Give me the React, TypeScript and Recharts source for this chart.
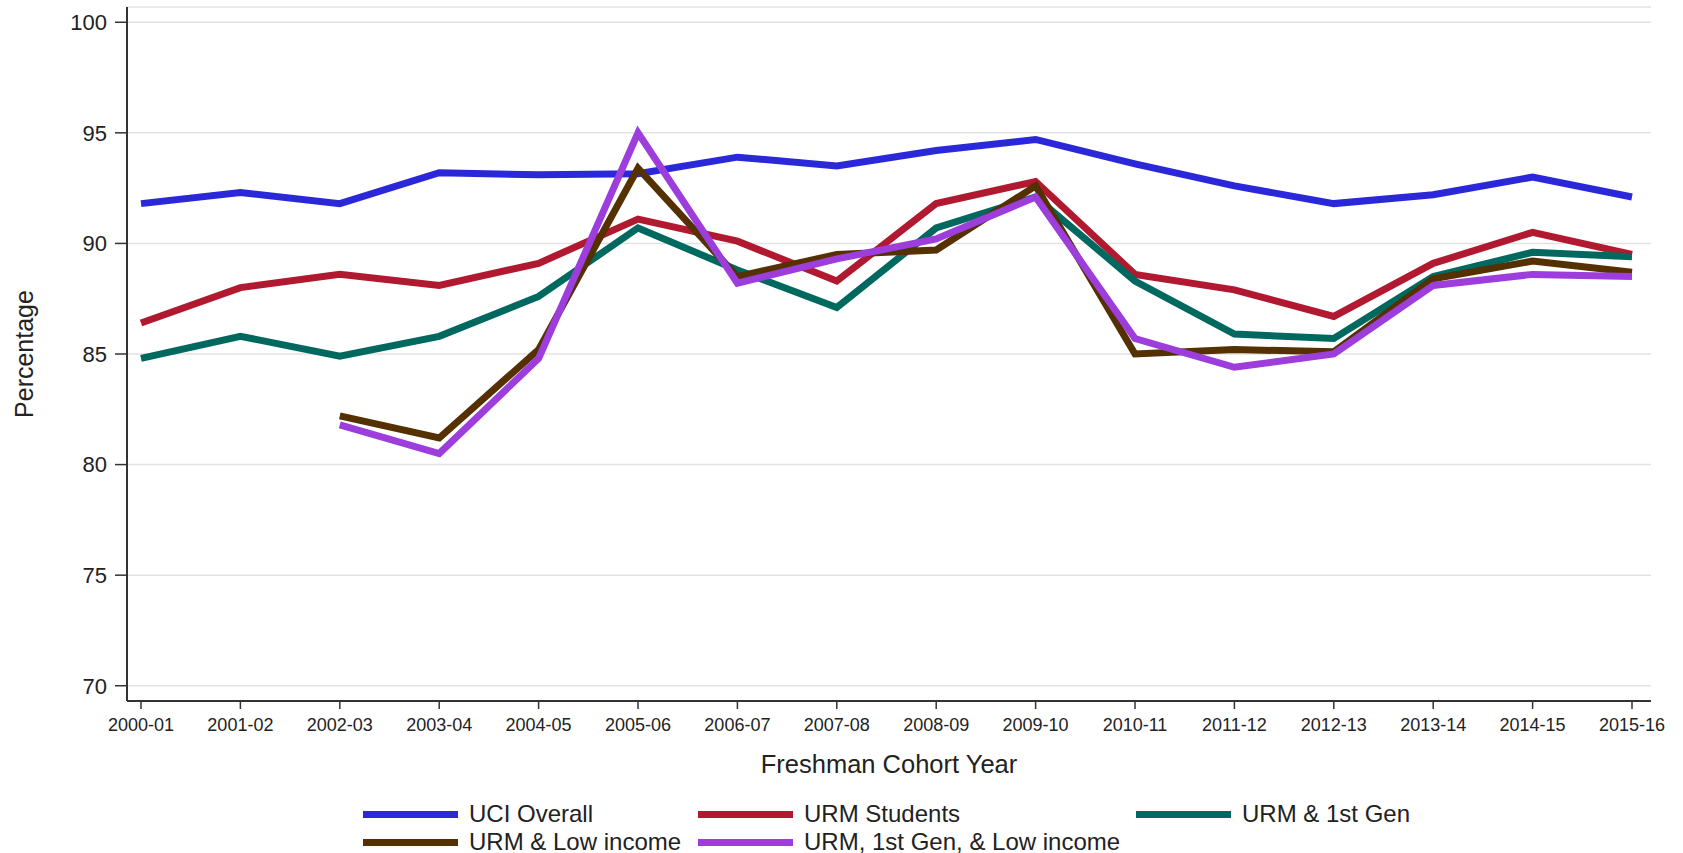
import React from "react";
import { LineChart, Line, XAxis, YAxis, CartesianGrid } from "recharts";

const years = [
  "2000-01", "2001-02", "2002-03", "2003-04", "2004-05", "2005-06", "2006-07", "2007-08",
  "2008-09", "2009-10", "2010-11", "2011-12", "2012-13", "2013-14", "2014-15", "2015-16",
];

const uciOverall = [91.8, 92.3, 91.8, 93.2, 93.1, 93.15, 93.9, 93.5, 94.2, 94.7, 93.6, 92.6, 91.8, 92.2, 93.0, 92.1];
const urmStudents = [86.4, 88.0, 88.6, 88.1, 89.1, 91.1, 90.1, 88.3, 91.8, 92.8, 88.6, 87.9, 86.7, 89.1, 90.5, 89.5];
const urmFirstGen = [84.8, 85.8, 84.9, 85.8, 87.6, 90.7, 88.8, 87.1, 90.7, 92.1, 88.3, 85.9, 85.7, 88.5, 89.6, 89.4];
const urmLowIncome = [null, null, 82.2, 81.2, 85.2, 93.4, 88.5, 89.5, 89.7, 92.6, 85.0, 85.2, 85.1, 88.4, 89.2, 88.7];
const urmFirstGenLowIncome = [null, null, 81.8, 80.5, 84.8, 95.0, 88.2, 89.3, 90.2, 92.1, 85.7, 84.4, 85.0, 88.1, 88.6, 88.5];

const yTicks = [70, 75, 80, 85, 90, 95, 100];

const series = [
  { key: "uci", name: "UCI Overall", color: "#2B28D9", values: uciOverall },
  { key: "urm", name: "URM Students", color: "#B0192F", values: urmStudents },
  { key: "urm1st", name: "URM & 1st Gen", color: "#00695F", values: urmFirstGen },
  { key: "urmLow", name: "URM & Low income", color: "#553000", values: urmLowIncome },
  { key: "urm1stLow", name: "URM, 1st Gen, & Low income", color: "#9C3DDC", values: urmFirstGenLowIncome },
];

const data = years.map((year, i) => {
  const row: Record<string, string | number | null> = { year };
  series.forEach((s) => (row[s.key] = s.values[i]));
  return row;
});

const FONT = '"Liberation Sans", Arial, sans-serif';
const INK = "#222";
const AXIS = "#333";

export default function App() {
  return (
    <div style={{ position: "absolute", left: 0, top: 0, width: 1683, height: 853, background: "#fff", fontFamily: FONT }}>
      <LineChart width={1683} height={853} data={data} margin={{ top: 7, right: 32, bottom: 72, left: 0 }}>
        <CartesianGrid vertical={false} stroke="#e2e2e2" strokeWidth={1.5} />
        <XAxis
          dataKey="year"
          height={80}
          padding={{ left: 14, right: 19 }}
          interval={0}
          tickSize={8}
          tickMargin={9}
          tick={{ fontSize: 18, fill: INK }}
          tickLine={{ stroke: AXIS, strokeWidth: 1.5 }}
          axisLine={{ stroke: AXIS, strokeWidth: 2 }}
          label={{
            content: ({ viewBox }: any) => (
              <text x={viewBox.x + viewBox.width / 2} y={773} textAnchor="middle" fontSize={25.5} fill={INK}>
                Freshman Cohort Year
              </text>
            ),
          }}
        />
        <XAxis xAxisId="top" dataKey="year" orientation="top" height={0} tick={false} tickLine={false} axisLine={{ stroke: AXIS, strokeWidth: 2 }} />
        <YAxis
          type="number"
          domain={[69.31, 100.69]}
          allowDataOverflow
          ticks={yTicks}
          width={127}
          tickSize={12}
          tickMargin={8}
          tick={{ fontSize: 22, fill: INK }}
          tickLine={{ stroke: AXIS, strokeWidth: 1.5 }}
          axisLine={{ stroke: AXIS, strokeWidth: 2 }}
          label={{
            content: ({ viewBox }: any) => {
              const cx = 24;
              const cy = viewBox.y + viewBox.height / 2;
              return (
                <text x={cx} y={cy} transform={`rotate(-90 ${cx} ${cy})`} textAnchor="middle" dominantBaseline="central" fontSize={25} fill={INK}>
                  Percentage
                </text>
              );
            },
          }}
        />
        <YAxis yAxisId="right" orientation="right" width={0} tick={false} tickLine={false} axisLine={{ stroke: AXIS, strokeWidth: 2 }} />
        {series.map((s) => (
          <Line
            key={s.key}
            type="linear"
            dataKey={s.key}
            name={s.name}
            stroke={s.color}
            strokeWidth={7}
            strokeLinejoin="miter"
            dot={false}
            activeDot={false}
            isAnimationActive={false}
          />
        ))}
      </LineChart>
      <div
        style={{
          position: "absolute",
          left: 363,
          top: 800,
          display: "grid",
          gridTemplateColumns: "335px 438px auto",
          gridAutoRows: "28px",
          fontSize: 24,
          lineHeight: "28px",
          color: INK,
        }}
      >
        {series.map((s) => (
          <div key={s.key} style={{ display: "flex", alignItems: "center", whiteSpace: "nowrap" }}>
            <span style={{ display: "inline-block", width: 95, height: 7, background: s.color, marginRight: 11 }} />
            <span>{s.name}</span>
          </div>
        ))}
      </div>
    </div>
  );
}
